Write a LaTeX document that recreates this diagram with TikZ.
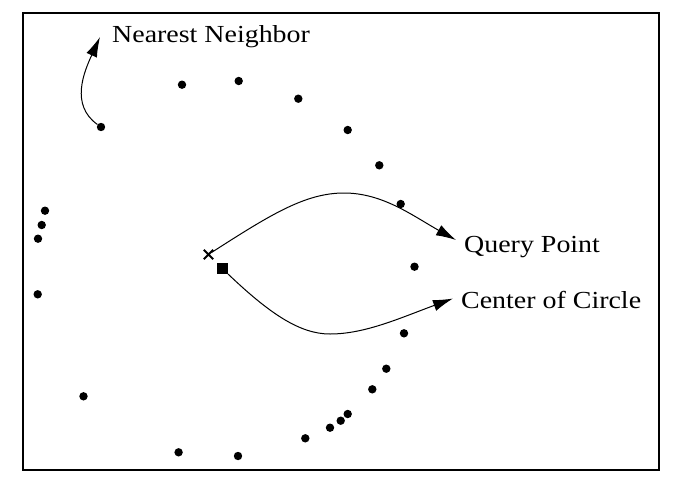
\documentclass[tikz,border=0pt]{standalone}
\usepackage{fontspec}
\setmainfont{Liberation Serif}
\usetikzlibrary{arrows.meta}
\begin{document}
\begin{tikzpicture}[x=1pt,y=-1pt,
  pt/.style={circle,fill=black,inner sep=0pt,minimum size=8.4pt},
  lbl/.style={inner sep=0pt,font=\fontsize{24.5}{28}\selectfont},
  conn/.style={line width=1pt,-{Latex[length=20pt,width=11.5pt]}},
  frame/.style={line width=2pt}]
\useasboundingbox (0,0) rectangle (675,488);
\draw[frame] (22.7,12.7) rectangle (659,470);
% points
\node[pt] (nn) at (101,127) {};
\foreach \n/\x/\y in {p1/182/84.7, p2/238.7/81, p3/298.3/98.7, p4/347.7/130,
  p5/379.3/165.3, p6/400.7/204, p7/45/210.7, p8/41.7/225, p9/38/238.7,
  p10/37.7/294.3, p11/414.5/266.7, p12/404/333.3, p13/386.3/368.7,
  p14/372.3/389.3, p15/347.7/414, p16/340.7/420.7, p17/330/427.7,
  p18/305.3/438.3, p19/238/456, p20/178.6/452.3, p21/83.5/396.3}
  \node[pt] (\n) at (\x,\y) {};
% query point (cross) and circle centre (square)
\node[inner sep=0pt,minimum size=9pt] (cross) at (208.5,254.5) {};
\draw[line width=1.8pt] (cross.north west) -- (cross.south east)
  (cross.north east) -- (cross.south west);
\node[fill=black,inner sep=0pt,minimum size=10.5pt] (sq) at (222.5,268.5) {};
% labels
\node[lbl,anchor=base west] (qp) at (464,252) {\scalebox{1.14}[1]{Query Point}};
\node[lbl,anchor=base west] (cc) at (461,308) {\scalebox{1.14}[1]{Center of Circle}};
\node[lbl,anchor=base west] (nl) at (112,42) {\scalebox{1.14}[1]{Nearest Neighbor}};
% helper coordinates
\coordinate (qpeak) at (344,193);
\coordinate (cbot) at (330,334);
\coordinate (nntip) at (100,37);
\coordinate (qtip) at (456,240);
\coordinate (ctip) at (453,298.5);
% connectors
\draw[conn] (cross.center) ++(3,-2) .. controls (270,215) and (305,193) .. (qpeak)
  .. controls (383,193) and (413,216) .. (qtip);
\draw[conn] (sq.south east) .. controls (270,314) and (300,334) .. (cbot)
  .. controls (365,334) and (400,318) .. (ctip);
\draw[conn] (nn) .. controls (70,105) and (84,72) .. (nntip);
\end{tikzpicture}
\end{document}
